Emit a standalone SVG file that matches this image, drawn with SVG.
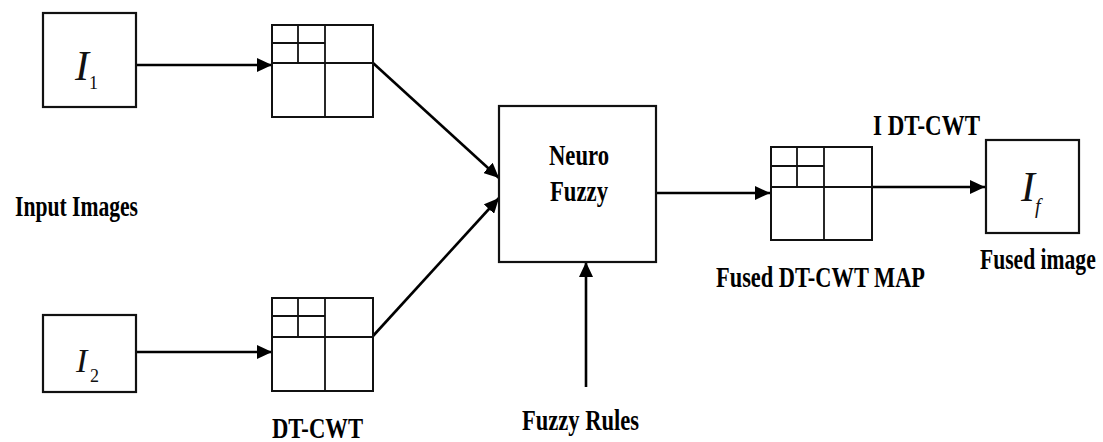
<svg xmlns="http://www.w3.org/2000/svg" width="1103" height="442" viewBox="0 0 1103 442">
<style>
.box{fill:#fff;stroke:#111;stroke-width:2.2}
.grid{fill:none;stroke:#111;stroke-width:2}
.gl{stroke:#111;stroke-width:1.8;fill:none}
.conn{stroke:#000;stroke-width:2.6;fill:none;marker-end:url(#ah)}
text{font-family:"Liberation Serif","Times New Roman",serif}
.lbl{font-weight:bold;font-size:30px;fill:#000}
.sym{font-style:italic;fill:#111}
.sub{fill:#111}
</style>
<defs>
<marker id="ah" markerUnits="userSpaceOnUse" markerWidth="16" markerHeight="14" refX="15" refY="7" orient="auto">
<path d="M0,0 L15,7 L0,14 z" fill="#000"/>
</marker>
</defs>
<rect width="1103" height="442" fill="#fff"/>

<g id="connectors">
<line class="conn" x1="136" y1="65" x2="272" y2="65"/>
<line class="conn" x1="136" y1="352" x2="272" y2="352"/>
<line class="conn" x1="373" y1="63" x2="499" y2="178"/>
<line class="conn" x1="373" y1="336" x2="499" y2="198"/>
<line class="conn" x1="586" y1="387" x2="586" y2="262"/>
<line class="conn" x1="656" y1="193" x2="770" y2="193"/>
<line class="conn" x1="872" y1="187" x2="985" y2="187"/>
</g>

<g id="input1">
<rect class="box" x="43" y="13" width="93" height="94"/>
<text class="sym" x="75" y="80" font-size="42">I</text>
<text class="sub" x="89" y="89" font-size="18">1</text>
</g>

<g id="input2">
<rect class="box" x="43" y="315" width="93" height="77"/>
<text class="sym" x="76" y="372" font-size="34">I</text>
<text class="sub" x="90" y="382" font-size="18">2</text>
</g>

<g id="label-input-images">
<text class="lbl" x="15" y="216" textLength="123" lengthAdjust="spacingAndGlyphs">Input Images</text>
</g>

<g id="dtcwt1">
<rect class="grid" x="272" y="25" width="101" height="92"/>
<line class="gl" x1="325" y1="25" x2="325" y2="117"/>
<line class="gl" x1="272" y1="63" x2="373" y2="63"/>
<line class="gl" x1="298" y1="25" x2="298" y2="63"/>
<line class="gl" x1="272" y1="43" x2="325" y2="43"/>
</g>

<g id="dtcwt2">
<rect class="grid" x="272" y="298" width="101" height="93"/>
<line class="gl" x1="325" y1="298" x2="325" y2="391"/>
<line class="gl" x1="272" y1="337" x2="373" y2="337"/>
<line class="gl" x1="298" y1="298" x2="298" y2="337"/>
<line class="gl" x1="272" y1="316" x2="325" y2="316"/>
</g>

<g id="label-dtcwt">
<text class="lbl" x="272" y="438" textLength="91" lengthAdjust="spacingAndGlyphs">DT-CWT</text>
</g>

<g id="neuro-fuzzy">
<rect class="box" x="499" y="106" width="157" height="156"/>
<text class="lbl" x="549" y="165" textLength="60" lengthAdjust="spacingAndGlyphs">Neuro</text>
<text class="lbl" x="550" y="201" textLength="58" lengthAdjust="spacingAndGlyphs">Fuzzy</text>
</g>

<g id="fuzzy-rules">
<text class="lbl" x="522" y="430" textLength="117" lengthAdjust="spacingAndGlyphs">Fuzzy Rules</text>
</g>

<g id="fused-map">
<rect class="grid" x="771" y="147" width="101" height="93"/>
<line class="gl" x1="824" y1="147" x2="824" y2="240"/>
<line class="gl" x1="771" y1="187" x2="872" y2="187"/>
<line class="gl" x1="797" y1="147" x2="797" y2="187"/>
<line class="gl" x1="771" y1="166" x2="824" y2="166"/>
<text class="lbl" x="716" y="287" textLength="209" lengthAdjust="spacingAndGlyphs">Fused DT-CWT MAP</text>
</g>

<g id="label-idtcwt">
<text class="lbl" x="873" y="135" textLength="107" lengthAdjust="spacingAndGlyphs">I DT-CWT</text>
</g>

<g id="fused-image">
<rect class="box" x="986" y="140" width="93" height="93"/>
<text class="sym" x="1021" y="201" font-size="42">I</text>
<text class="sym" x="1035" y="213" font-size="20">f</text>
<text class="lbl" transform="translate(980,269) scale(0.72,1)">Fused image</text>
</g>
</svg>
